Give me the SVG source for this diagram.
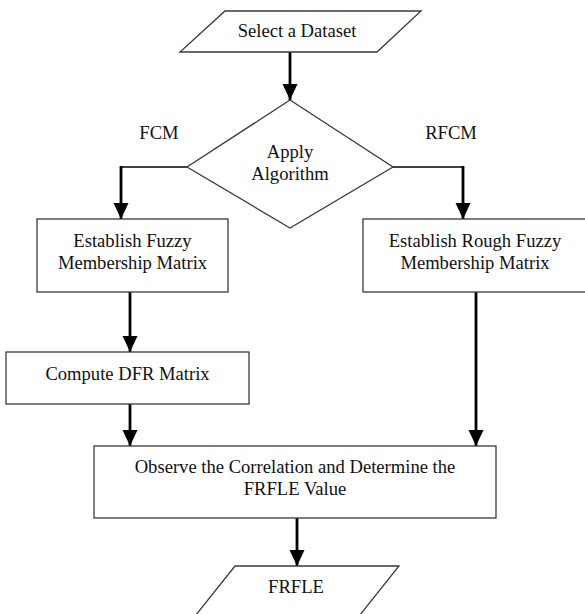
<svg xmlns="http://www.w3.org/2000/svg" width="585" height="614" viewBox="0 0 585 614">
  <style>
    .shape { fill: #ffffff; stroke: #3a3a3a; stroke-width: 1.3; }
    .label { font-family: "Liberation Serif", "Times New Roman", serif; font-size: 18.6px; fill: #111111; text-anchor: middle; }
    .flow { fill: none; stroke: #000000; stroke-width: 2.8; }
    .branch { fill: none; stroke: #000000; stroke-width: 1.3; }
  </style>
  <defs>
    <marker id="arrow" markerUnits="userSpaceOnUse" markerWidth="16" markerHeight="16" refX="16" refY="7.5" orient="auto">
      <path d="M0,0 L16,7.5 L0,15 z" fill="#000000"/>
    </marker>
  </defs>
  <rect x="0" y="0" width="585" height="614" fill="#ffffff"/>

  <g id="connectors">
    <line class="flow" x1="290" y1="52" x2="290" y2="100" marker-end="url(#arrow)"/>
    <polyline class="branch" points="187,167 121,167"/>
    <line class="flow" x1="121" y1="166" x2="121" y2="219" marker-end="url(#arrow)"/>
    <polyline class="branch" points="393,167 463,167"/>
    <line class="flow" x1="463" y1="166" x2="463" y2="219" marker-end="url(#arrow)"/>
    <line class="flow" x1="130" y1="292" x2="130" y2="352" marker-end="url(#arrow)"/>
    <line class="flow" x1="476" y1="292" x2="476" y2="446" marker-end="url(#arrow)"/>
    <line class="flow" x1="130" y1="404" x2="130" y2="446" marker-end="url(#arrow)"/>
    <line class="flow" x1="297" y1="518" x2="297" y2="566" marker-end="url(#arrow)"/>
  </g>

  <g id="select-dataset">
    <polygon class="shape" points="225,11 421,11 377,52 180,52"/>
    <text class="label" x="297" y="37">Select a Dataset</text>
  </g>

  <g id="apply-algorithm">
    <polygon class="shape" points="290,100 393,167 290,228 187,167"/>
    <text class="label" x="290" y="158">Apply</text>
    <text class="label" x="290" y="180">Algorithm</text>
  </g>

  <g id="label-fcm">
    <text class="label" x="159" y="139">FCM</text>
  </g>
  <g id="label-rfcm">
    <text class="label" x="451" y="139">RFCM</text>
  </g>

  <g id="fuzzy-membership">
    <rect class="shape" x="37" y="219" width="191" height="73"/>
    <text class="label" x="132.5" y="247">Establish Fuzzy</text>
    <text class="label" x="132.5" y="269">Membership Matrix</text>
  </g>

  <g id="rough-fuzzy-membership">
    <rect class="shape" x="363" y="219" width="224" height="73"/>
    <text class="label" x="475" y="247">Establish Rough Fuzzy</text>
    <text class="label" x="475" y="269">Membership Matrix</text>
  </g>

  <g id="compute-dfr">
    <rect class="shape" x="6" y="352" width="243" height="52"/>
    <text class="label" x="127.5" y="380">Compute DFR Matrix</text>
  </g>

  <g id="observe-correlation">
    <rect class="shape" x="94" y="446" width="402" height="72"/>
    <text class="label" x="295" y="473">Observe the Correlation and Determine the</text>
    <text class="label" x="295" y="495">FRFLE Value</text>
  </g>

  <g id="frfle">
    <polygon class="shape" points="235,566 399,566 340,640 176,640"/>
    <text class="label" x="296" y="593">FRFLE</text>
  </g>
</svg>
